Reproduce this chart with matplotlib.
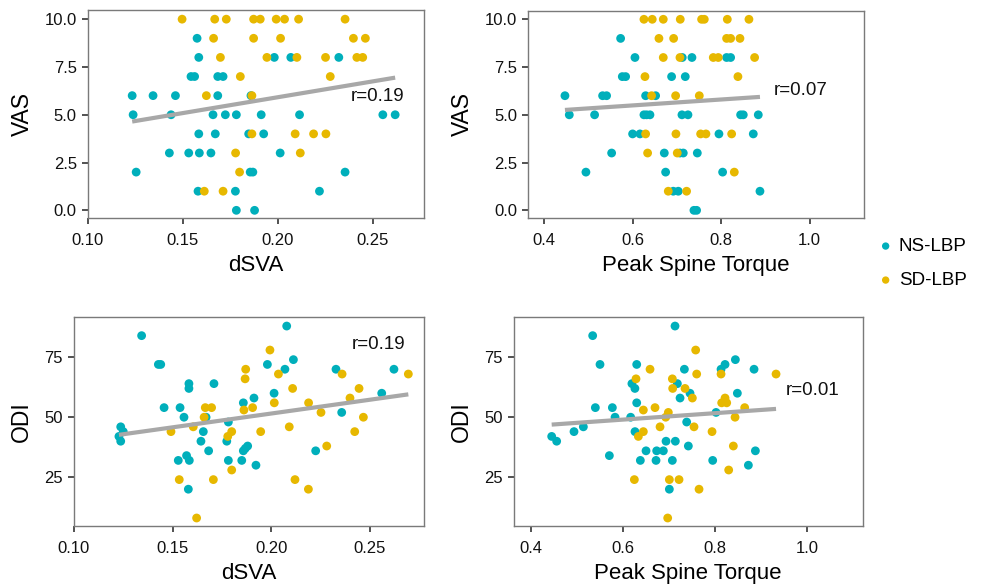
import numpy as np
import matplotlib
matplotlib.use('Agg')
import matplotlib.pyplot as plt

plt.rcParams['font.family'] = ['Liberation Sans', 'DejaVu Sans']

NS_COLOR = '#00AFBB'
SD_COLOR = '#E7B800'
LINE_COLOR = '#A8A8A8'

# VAS vs dSVA
vas_dsva_ns_x = [0.1575, 0.1584, 0.1982, 0.2069, 0.2322,
                 0.1543, 0.1562, 0.1684, 0.1712,
                 0.1233, 0.1343, 0.1461, 0.1684, 0.1859,
                 0.1238, 0.1438, 0.1659, 0.1724, 0.1782, 0.1913, 0.2115, 0.2554, 0.2619,
                 0.1584, 0.1671, 0.1847, 0.1926,
                 0.1429, 0.1531, 0.1587, 0.1648, 0.2013,
                 0.1254, 0.1855, 0.1869, 0.2355,
                 0.1580, 0.1777, 0.2220,
                 0.1782, 0.1878]
vas_dsva_ns_y = [9, 8, 8, 8, 8,
                 7, 7, 7, 7,
                 6, 6, 6, 6, 6,
                 5, 5, 5, 5, 5, 5, 5, 5, 5,
                 4, 4, 4, 4,
                 3, 3, 3, 3, 3,
                 2, 2, 2, 2,
                 1, 1, 1,
                 0, 0]
vas_dsva_sd_x = [0.1496, 0.1668, 0.1729, 0.1873, 0.1908, 0.1992, 0.2036, 0.2110, 0.2355,
                 0.1662, 0.1873, 0.2015, 0.2399, 0.2462,
                 0.1698, 0.1943, 0.2101, 0.2252, 0.2417, 0.2448,
                 0.1803, 0.2277,
                 0.1624, 0.1864,
                 0.1864, 0.2092, 0.2189, 0.2254,
                 0.1778, 0.2119,
                 0.1799,
                 0.1613, 0.1712]
vas_dsva_sd_y = [10, 10, 10, 10, 10, 10, 10, 10, 10,
                 9, 9, 9, 9, 9,
                 8, 8, 8, 8, 8, 8,
                 7, 7,
                 6, 6,
                 4, 4, 4, 4,
                 3, 3,
                 2,
                 1, 1]

# VAS vs peak spine torque
vas_torque_ns_x = [0.5726,
                   0.6050, 0.7119, 0.7338, 0.8121, 0.8212,
                   0.5764, 0.5839, 0.6878, 0.7187,
                   0.4468, 0.5319, 0.5409, 0.6291, 0.6517,
                   0.4566, 0.5138, 0.6253, 0.6313, 0.6389, 0.7112, 0.7248, 0.8438, 0.8498, 0.8837,
                   0.5997, 0.6163, 0.7948, 0.8724,
                   0.5523, 0.6713, 0.7067, 0.7142, 0.7459,
                   0.4942, 0.6743, 0.8031,
                   0.6916, 0.7029, 0.8875,
                   0.7383, 0.7443]
vas_torque_ns_y = [9,
                   8, 8, 8, 8, 8,
                   7, 7, 7, 7,
                   6, 6, 6, 6, 6,
                   5, 5, 5, 5, 5, 5, 5, 5, 5, 5,
                   4, 4, 4, 4,
                   3, 3, 3, 3, 3,
                   2, 2, 2,
                   1, 1, 1,
                   0, 0]
vas_torque_sd_x = [0.6253, 0.6441, 0.6690, 0.7074, 0.7556, 0.7617, 0.8137, 0.8626,
                   0.6592, 0.6924, 0.8121, 0.8212, 0.8423,
                   0.6690, 0.7067, 0.7820, 0.7933, 0.8754,
                   0.6276, 0.8377,
                   0.6426, 0.6969, 0.7504,
                   0.6291, 0.6976, 0.7534, 0.7654, 0.8235,
                   0.6336, 0.7006,
                   0.8295,
                   0.6803, 0.7217]
vas_torque_sd_y = [10, 10, 10, 10, 10, 10, 10, 10,
                   9, 9, 9, 9, 9,
                   8, 8, 8, 8, 8,
                   7, 7,
                   6, 6, 6,
                   4, 4, 4, 4, 4,
                   3, 3,
                   2,
                   1, 1]

# ODI vs dSVA
odi_dsva_ns_x = [0.1343, 0.2079, 0.1428, 0.1440, 0.2113, 0.1981, 0.2070, 0.2329, 0.2623,
                 0.1583, 0.1583, 0.1710, 0.2015, 0.2561, 0.1913, 0.1859, 0.1457, 0.1538,
                 0.2358, 0.1558, 0.1670, 0.1783, 0.1237, 0.1250, 0.1228, 0.1237, 0.1656,
                 0.1644, 0.1775, 0.1881, 0.1869, 0.1859, 0.1683, 0.2226, 0.1529, 0.1571,
                 0.1585, 0.1783, 0.1851, 0.1923, 0.1580]
odi_dsva_ns_y = [84, 88, 72, 72, 74, 72, 70, 70, 70,
                 64, 62, 64, 60, 60, 58, 56, 54, 54,
                 52, 50, 50, 48, 46, 44, 42, 40, 44,
                 40, 40, 38, 37, 36, 36, 36, 32, 34,
                 32, 32, 32, 30, 20]
odi_dsva_sd_x = [0.1994, 0.1871, 0.1868, 0.2037, 0.2360, 0.2696, 0.2109, 0.2446, 0.2400,
                 0.2016, 0.2190, 0.1666, 0.1698, 0.1862, 0.1906, 0.2253, 0.1660, 0.2468,
                 0.1605, 0.2092, 0.1492, 0.1800, 0.1947, 0.2424, 0.1780, 0.2282, 0.1800,
                 0.1534, 0.1707, 0.2121, 0.2189, 0.1622]
odi_dsva_sd_y = [78, 70, 66, 68, 68, 68, 62, 62, 58,
                 56, 56, 54, 54, 53, 54, 52, 50, 50,
                 46, 46, 44, 44, 44, 44, 42, 38, 28,
                 24, 24, 24, 20, 8]

# ODI vs peak spine torque
odi_torque_ns_x = [0.7130, 0.5344, 0.5503, 0.6299, 0.8439, 0.8215, 0.8128, 0.8844, 0.7333,
                   0.7181, 0.6195, 0.6260, 0.7455, 0.8482, 0.7239, 0.6299, 0.5402, 0.5771,
                   0.8020, 0.5829, 0.6168, 0.7383, 0.5142, 0.4939, 0.6262, 0.4455, 0.4563,
                   0.6935, 0.7137, 0.7419, 0.5706, 0.6501, 0.6732, 0.6877, 0.6378, 0.6718,
                   0.7072, 0.7947, 0.8721, 0.8873, 0.7007]
odi_torque_ns_y = [88, 84, 72, 72, 74, 72, 70, 70, 70,
                   64, 64, 62, 60, 60, 58, 56, 54, 54,
                   52, 50, 50, 48, 46, 44, 44, 42, 40,
                   40, 40, 38, 34, 36, 36, 36, 32, 32,
                   32, 32, 30, 36, 20]
odi_torque_sd_x = [0.7578, 0.6588, 0.7600, 0.9321, 0.8128, 0.6284, 0.7072, 0.7079, 0.7347,
                   0.7506, 0.8215, 0.8142, 0.8251, 0.6443, 0.6696, 0.8641, 0.6985, 0.6928,
                   0.8432, 0.6805, 0.7542, 0.6443, 0.6335, 0.7933, 0.8395, 0.8294, 0.6248,
                   0.7007, 0.7217, 0.7651, 0.6971]
odi_torque_sd_y = [78, 70, 68, 68, 68, 66, 66, 62, 62,
                   58, 58, 56, 56, 53, 54, 54, 52, 50,
                   50, 46, 46, 44, 42, 44, 38, 28, 24,
                   24, 24, 20, 8]

r_labels = ['r=0.19', 'r=0.07', 'r=0.19', 'r=0.01']

panels = [
    dict(rect=[0.0894, 0.6293, 0.3415, 0.3537], xlim=(0.10, 0.2771), ylim=(-0.4, 10.48),
         xticks=[0.10, 0.15, 0.20, 0.25], xfmt='{:.2f}', yticks=[0, 2.5, 5, 7.5, 10], yfmt='{:.1f}',
         ns=(vas_dsva_ns_x, vas_dsva_ns_y), sd=(vas_dsva_sd_x, vas_dsva_sd_y),
         xlabel='dSVA', ylabel='VAS', r=r_labels[0], rpos=(0.2526, 5.93)),
    dict(rect=[0.5369, 0.6293, 0.3411, 0.3525], xlim=(0.364, 1.1225), ylim=(-0.4, 10.45),
         xticks=[0.4, 0.6, 0.8, 1.0], xfmt='{:.1f}', yticks=[0, 2.5, 5, 7.5, 10], yfmt='{:.1f}',
         ns=(vas_torque_ns_x, vas_torque_ns_y), sd=(vas_torque_sd_x, vas_torque_sd_y),
         xlabel='Peak Spine Torque', ylabel='VAS', r=r_labels[1], rpos=(0.980, 6.26)),
    dict(rect=[0.0752, 0.1060, 0.3560, 0.3554], xlim=(0.10, 0.2777), ylim=(4.8, 91.9),
         xticks=[0.10, 0.15, 0.20, 0.25], xfmt='{:.2f}', yticks=[25, 50, 75], yfmt='{:.0f}',
         ns=(odi_dsva_ns_x, odi_dsva_ns_y), sd=(odi_dsva_sd_x, odi_dsva_sd_y),
         xlabel='dSVA', ylabel='ODI', r=r_labels[2], rpos=(0.2544, 80.5)),
    dict(rect=[0.5220, 0.1060, 0.3547, 0.3554], xlim=(0.363, 1.12), ylim=(4.8, 91.9),
         xticks=[0.4, 0.6, 0.8, 1.0], xfmt='{:.1f}', yticks=[25, 50, 75], yfmt='{:.0f}',
         ns=(odi_torque_ns_x, odi_torque_ns_y), sd=(odi_torque_sd_x, odi_torque_sd_y),
         xlabel='Peak Spine Torque', ylabel='ODI', r=r_labels[3], rpos=(1.0116, 61.0)),
]

fig = plt.figure(figsize=(9.84, 5.88), dpi=100)

for p in panels:
    ax = fig.add_axes(p['rect'])
    ax.scatter(p['ns'][0], p['ns'][1], s=40, color=NS_COLOR, edgecolors='none', zorder=2)
    ax.scatter(p['sd'][0], p['sd'][1], s=40, color=SD_COLOR, edgecolors='none', zorder=2)

    # linear fit over all points
    xs = np.array(list(p['ns'][0]) + list(p['sd'][0]))
    ys = np.array(list(p['ns'][1]) + list(p['sd'][1]))
    k, b = np.polyfit(xs, ys, 1)
    xx = np.array([xs.min(), xs.max()])
    ax.plot(xx, k * xx + b, color=LINE_COLOR, lw=3, solid_capstyle='butt', zorder=3)

    ax.text(p['rpos'][0], p['rpos'][1], p['r'], fontsize=13.5, ha='center', va='center', color='#111111')

    ax.set_xlim(p['xlim'])
    ax.set_ylim(p['ylim'])
    ax.set_xticks(p['xticks'])
    ax.set_xticklabels([p['xfmt'].format(v) for v in p['xticks']])
    ax.set_yticks(p['yticks'])
    ax.set_yticklabels([p['yfmt'].format(v) for v in p['yticks']])
    ax.tick_params(labelsize=12, length=4, width=1.2, color='#333333', labelcolor='#111111')
    ax.tick_params(axis='x', pad=7)
    ax.tick_params(axis='y', pad=4)
    for s in ax.spines.values():
        s.set_color('#7a7a7a')
        s.set_linewidth(1.0)
    ax.set_xlabel(p['xlabel'], fontsize=16, labelpad=5)
    ax.set_ylabel(p['ylabel'], fontsize=16.5, labelpad=8)

# legend
leg_ax = fig.add_axes([0.88, 0.45, 0.12, 0.15])
leg_ax.axis('off')
h1 = leg_ax.scatter([], [], s=28, color=NS_COLOR, edgecolors='none', label='NS-LBP')
h2 = leg_ax.scatter([], [], s=28, color=SD_COLOR, edgecolors='none', label='SD-LBP')
fig.legend(handles=[h1, h2], loc='center left', bbox_to_anchor=(0.881, 0.552), frameon=False,
           fontsize=13.5, handletextpad=0.1, labelspacing=0.9, borderaxespad=0, handlelength=1.2)

fig.savefig('out.png', dpi=100)
